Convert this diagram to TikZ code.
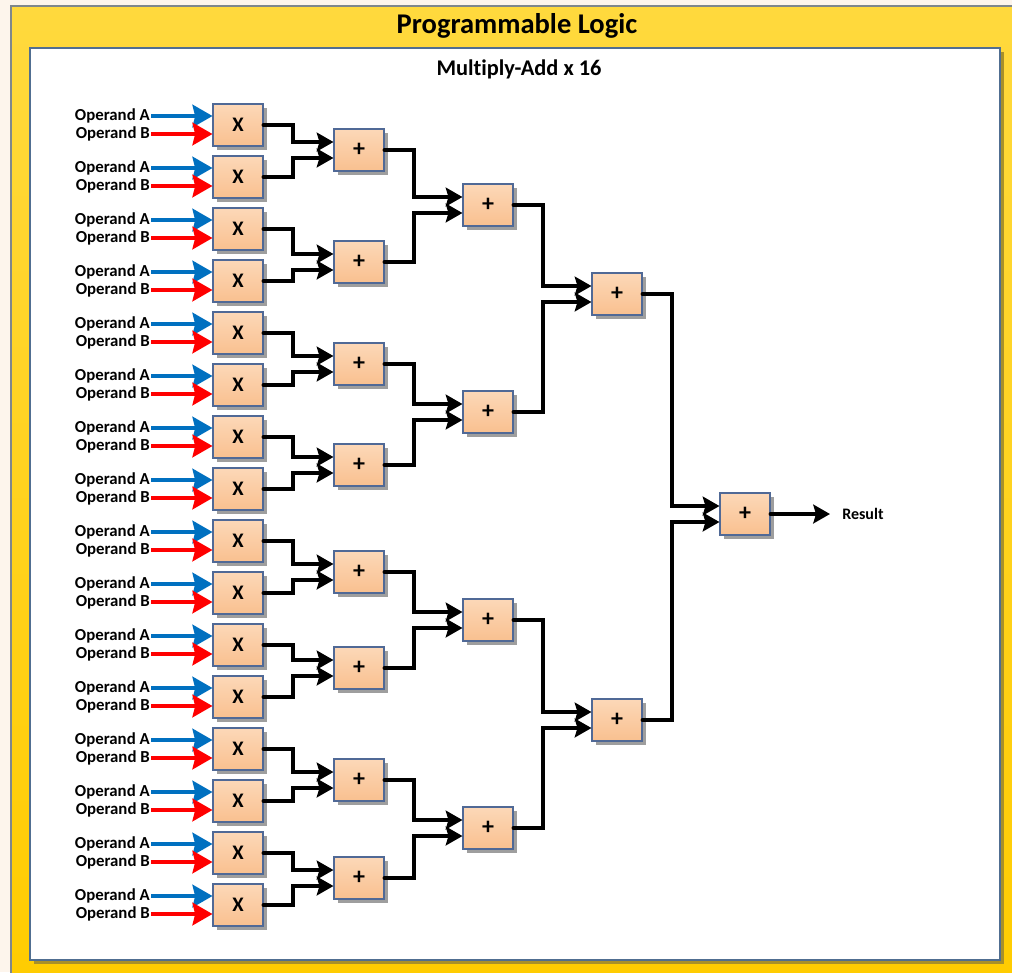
\documentclass[tikz,border=0pt]{standalone}
\usepackage{fontspec}
\setmainfont[Ligatures=NoCommon]{Carlito}
\usetikzlibrary{arrows.meta,shadows}
\definecolor{bgcream}{RGB}{253,245,236}
\definecolor{frametop}{RGB}{255,217,61}
\definecolor{framebot}{RGB}{255,204,0}
\definecolor{frameline}{RGB}{127,135,140}
\definecolor{panelline}{RGB}{80,110,145}
\definecolor{panelshadow}{RGB}{168,144,42}
\definecolor{boxtop}{RGB}{252,216,184}
\definecolor{boxbot}{RGB}{249,192,143}
\definecolor{boxline}{RGB}{80,105,150}
\definecolor{boxshadow}{RGB}{158,158,158}
\definecolor{opablue}{RGB}{0,112,192}
\definecolor{opbred}{RGB}{255,0,0}
\tikzset{
  opbox/.style={draw=boxline, line width=0.8pt, top color=boxtop, bottom color=boxbot,
    minimum width=37.5pt, minimum height=31.5pt, inner sep=0pt, font=\bfseries,
    drop shadow={shadow xshift=3pt, shadow yshift=-3pt, fill=boxshadow, opacity=1}},
  mulbox/.style={opbox, font=\fontsize{15.5}{15.5}\selectfont\bfseries},
  addbox/.style={opbox, font=\fontsize{18}{18}\selectfont\bfseries},
  oplabel/.style={anchor=east, inner sep=0pt, font=\fontsize{12.6}{12.6}\selectfont\bfseries},
  inA/.style={draw=opablue, line width=2.4pt, -{Stealth[length=15pt,width=17pt,inset=2pt]}, shorten <=1pt},
  inB/.style={draw=opbred, line width=2.4pt, -{Stealth[length=15pt,width=17pt,inset=2pt]}, shorten <=1pt},
  conn/.style={line width=3pt, line cap=round, line join=miter, -{Stealth[length=12.5pt,width=14pt,inset=2pt]}},
}
\begin{document}
\begin{tikzpicture}[x=0.75pt,y=-0.75pt]
\useasboundingbox (0,0) rectangle (1012,972);
\fill[bgcream] (0,0) rectangle (1012,972);
\shade[top color=frametop, bottom color=framebot] (11,6) rectangle (1030,990);
\draw[frameline, line width=1pt] (11,990) -- (11,6) -- (1030,6);
\fill[panelshadow] (34,52) rectangle (1004,964);
\draw[panelline, line width=1.2pt, fill=white] (30,48) rectangle (1000,960);
\node[font=\fontsize{21.4}{21.4}\selectfont\bfseries] (title) at (517,26) {Programmable Logic};
\node[font=\fontsize{16.8}{16.8}\selectfont\bfseries] (sub) at (519,69) {Multiply-Add x 16};
% multipliers
\foreach \i in {1,...,16}{
  \pgfmathsetmacro{\yc}{125+52*(\i-1)}
  \node[mulbox] (m\i) at (238,\yc) {X};
  \node[oplabel] (la\i) at (150,\yc-9) {Operand A};
  \node[oplabel] (lb\i) at (150,\yc+9) {Operand B};
  \draw[inA] (la\i.east) -- (m\i.west |- la\i.east);
  \draw[inB] (lb\i.east) -- (m\i.west |- lb\i.east);
}
% level 1 adders
\foreach \i/\yc in {1/150,2/262,3/364,4/465,5/572,6/668,7/780,8/878}{
  \node[addbox] (a\i) at (359,\yc) {+};
}
\foreach \i/\yc in {1/205,2/412,3/620,4/828}{
  \node[addbox] (b\i) at (488,\yc) {+};
}
\node[addbox] (c1) at (617,294) {+};
\node[addbox] (c2) at (617,720) {+};
\node[addbox] (d1) at (745,514) {+};
% connectors level 1
\foreach \k in {1,...,8}{
  \pgfmathtruncatemacro{\u}{2*\k-1}
  \pgfmathtruncatemacro{\v}{2*\k}
  \draw[conn] (m\u.east) -- ++(29,0) |- ([yshift=6pt]a\k.west);
  \draw[conn] (m\v.east) -- ++(29,0) |- ([yshift=-6pt]a\k.west);
}
\foreach \k in {1,...,4}{
  \pgfmathtruncatemacro{\u}{2*\k-1}
  \pgfmathtruncatemacro{\v}{2*\k}
  \draw[conn] (a\u.east) -- ++(29,0) |- ([yshift=6pt]b\k.west);
  \draw[conn] (a\v.east) -- ++(29,0) |- ([yshift=-6pt]b\k.west);
}
\draw[conn] (b1.east) -- ++(29,0) |- ([yshift=6pt]c1.west);
\draw[conn] (b2.east) -- ++(29,0) |- ([yshift=-6pt]c1.west);
\draw[conn] (b3.east) -- ++(29,0) |- ([yshift=6pt]c2.west);
\draw[conn] (b4.east) -- ++(29,0) |- ([yshift=-6pt]c2.west);
\draw[conn] (c1.east) -- ++(29,0) |- ([yshift=6pt]d1.west);
\draw[conn] (c2.east) -- ++(29,0) |- ([yshift=-6pt]d1.west);
\coordinate (rend) at (830,514);
\draw[conn] (d1.east) -- (rend);
\node[anchor=west, inner sep=0pt, font=\fontsize{12}{12}\selectfont\bfseries] (res) at (842,514) {Result};
\end{tikzpicture}
\end{document}
